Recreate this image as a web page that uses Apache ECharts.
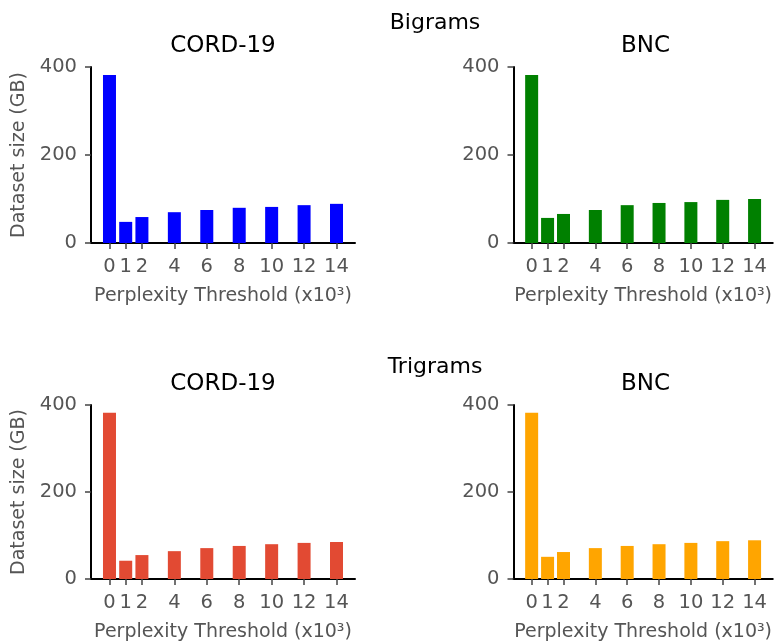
<!DOCTYPE html>
<html>
<head>
<meta charset="utf-8">
<script src="https://cdn.jsdelivr.net/npm/echarts@6/dist/echarts.min.js"></script>
<style>
html,body{margin:0;padding:0;background:#fff;}
#c{width:774px;height:643px;}
</style>
</head>
<body>
<div id="c"></div>
<script>
const thresholds = [0, 1, 2, 4, 6, 8, 10, 12, 14];
const cordBigrams = [382, 48, 59, 70, 75, 80, 82, 86, 89];
const bncBigrams = [382, 57, 66, 75, 86, 91, 93, 98, 100];
const cordTrigrams = [382, 42, 55, 64, 71, 76, 80, 83, 85];
const bncTrigrams = [382, 51, 62, 71, 76, 80, 83, 87, 89];
const rowTitles = ['Bigrams', 'Trigrams'];
const colTitles = ['CORD-19', 'BNC'];
const panelColors = ['#0000ff', '#008000', '#e24a33', '#ffa500'];
const panelData = [cordBigrams, bncBigrams, cordTrigrams, bncTrigrams];

const FONT = 'DejaVu Sans';
const gridPos = [
  {left: 91, top: 67},
  {left: 513.5, top: 67},
  {left: 91, top: 405},
  {left: 513.5, top: 405}
];
const GW = 264, GH = 176;

const grids = [], xAxes = [], yAxes = [], series = [], titles = [];
gridPos.forEach((g, i) => {
  grids.push({left: g.left, top: g.top, width: GW, height: GH, containLabel: false});
  xAxes.push({
    type: 'value', gridIndex: i, min: -1.14, max: 15.14,
    name: 'Perplexity Threshold (x10³)', nameLocation: 'middle', nameGap: 44,
    nameTextStyle: {color: '#555', fontSize: 19, fontFamily: FONT},
    axisLine: {show: true, onZero: false, lineStyle: {color: '#000', width: 2}},
    axisTick: {show: true, customValues: thresholds, length: 6, lineStyle: {color: '#444', width: 1.5}},
    axisLabel: {customValues: thresholds, color: '#555', fontSize: 19.5, fontFamily: FONT, margin: 14},
    splitLine: {show: false}
  });
  const isLeft = (i % 2 === 0);
  yAxes.push({
    type: 'value', gridIndex: i, min: 0, max: 400, interval: 200,
    name: isLeft ? 'Dataset size (GB)' : '', nameLocation: 'middle', nameGap: 62,
    nameTextStyle: {color: '#555', fontSize: 19, fontFamily: FONT},
    axisLine: {show: true, onZero: false, lineStyle: {color: '#000', width: 2}},
    axisTick: {show: true, inside: false, length: 6, lineStyle: {color: '#444', width: 1.5}},
    axisLabel: {color: '#555', fontSize: 19.5, fontFamily: FONT, margin: 14},
    splitLine: {show: false}
  });
  series.push({
    type: 'bar', xAxisIndex: i, yAxisIndex: i,
    data: thresholds.map((t, k) => [t, panelData[i][k]]),
    barWidth: 13,
    itemStyle: {color: panelColors[i]},
    silent: true
  });
  titles.push({
    text: colTitles[i % 2],
    left: g.left + GW / 2 - 5, top: g.top - 37, textAlign: 'center',
    textStyle: {fontSize: 23, fontWeight: 'normal', color: '#000', fontFamily: FONT}
  });
});
titles.push({text: rowTitles[0], left: 430, top: 7, textAlign: 'center',
  textStyle: {fontSize: 22, fontWeight: 'normal', color: '#000', fontFamily: FONT}});
titles.push({text: rowTitles[1], left: 430, top: 351, textAlign: 'center',
  textStyle: {fontSize: 22, fontWeight: 'normal', color: '#000', fontFamily: FONT}});

const chart = echarts.init(document.getElementById('c'), null, {renderer: 'canvas'});
chart.setOption({
  animation: false,
  backgroundColor: '#fff',
  title: titles,
  grid: grids,
  xAxis: xAxes,
  yAxis: yAxes,
  series: series
});
</script>
</body>
</html>
